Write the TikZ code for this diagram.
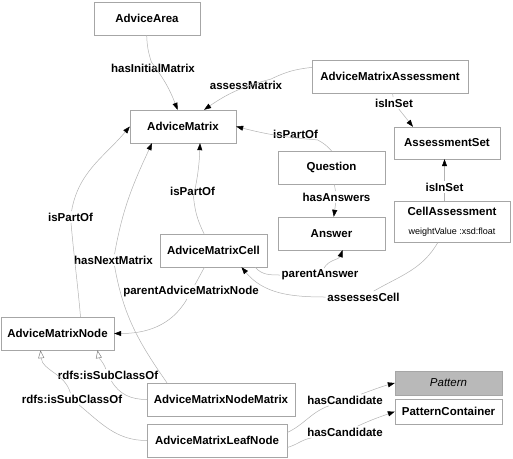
\documentclass[tikz,border=0pt]{standalone}
\usepackage{fontspec}
\setmainfont{Liberation Sans}
\usetikzlibrary{positioning,arrows.meta}

\tikzset{
  cls/.style={draw=gray!70, rectangle, inner sep=0pt, minimum height=33pt, font=\bfseries\fontsize{11.5}{13}\selectfont},
  lbl/.style={inner sep=1.5pt, font=\bfseries\fontsize{11.5}{13}\selectfont},
  rel/.style={draw=gray!60, line width=0.5pt, -{Triangle[black,length=7pt,width=5pt]}},
  sub/.style={draw=gray!60, line width=0.5pt, -{Triangle[open,gray,length=8pt,width=6pt]}},
}

\begin{document}
\begin{tikzpicture}[x=1pt,y=-1pt]
	\useasboundingbox (0,0) rectangle (513,458);

	\node[cls,minimum width=106pt] (area) at (147,18.5) {AdviceArea};
	\node[cls,minimum width=106pt] (matrix) at (183,126.5) {AdviceMatrix};
	\node[cls,minimum width=156pt] (assess) at (390,76.5) {AdviceMatrixAssessment};
	\node[cls,minimum width=106pt,minimum height=32pt] (aset) at (447,143) {AssessmentSet};
	\node[cls,minimum width=107pt] (question) at (331.5,167.5) {Question};
	\node[cls,minimum width=107pt] (answer) at (331.5,233.5) {Answer};
	\node[cls,minimum width=116pt,minimum height=41pt,align=center] (cellass) at (452,221.5)
		{CellAssessment\\[6pt]{\mdseries\fontsize{9}{11}\selectfont weightValue :xsd:float}};
	\node[cls,minimum width=107pt] (cell) at (213.5,250.5) {AdviceMatrixCell};
	\node[cls,minimum width=113pt] (mnode) at (57.5,333.5) {AdviceMatrixNode};
	\node[cls,minimum width=148pt] (nodematrix) at (221,399.5) {AdviceMatrixNodeMatrix};
	\node[cls,minimum width=140pt] (leaf) at (217,440.5) {AdviceMatrixLeafNode};
	\node[cls,minimum width=107pt,minimum height=24pt,fill=gray!55,font=\itshape\fontsize{11.5}{13}\selectfont] (pattern) at (448.5,383) {Pattern};
	\node[cls,minimum width=107pt,minimum height=25pt] (container) at (448.5,411.5) {PatternContainer};

	\node[lbl] (lInit) at (153,68) {hasInitialMatrix};
	\node[lbl] (lAssM) at (246,85) {assessMatrix};
	\node[lbl] (lSet1) at (394,103) {isInSet};
	\node[lbl] (lPart1) at (295.5,134) {isPartOf};
	\node[lbl] (lAns) at (336.5,197) {hasAnswers};
	\node[lbl] (lSet2) at (444.5,187) {isInSet};
	\node[lbl] (lPart2) at (192.5,191) {isPartOf};
	\node[lbl] (lPart3) at (70.5,217) {isPartOf};
	\node[lbl] (lNext) at (113.5,260) {hasNextMatrix};
	\node[lbl] (lParNode) at (191,292) {parentAdviceMatrixNode};
	\node[lbl] (lParAns) at (320,275) {parentAnswer};
	\node[lbl] (lAssC) at (363.5,297) {assessesCell};
	\node[lbl] (lSub1) at (108,375) {rdfs:isSubClassOf};
	\node[lbl] (lSub2) at (72,399) {rdfs:isSubClassOf};
	\node[lbl] (lCand1) at (345,400) {hasCandidate};
	\node[lbl] (lCand2) at (345,432) {hasCandidate};

	\draw[rel] (area) to[bend right=8] (lInit) to[bend left=8] (matrix);
	\draw[rel] (assess) to[bend right=10] (lAssM) to[bend right=10] (matrix);
	\draw[rel] (assess) -- (lSet1) -- ([xshift=-34pt]aset.north);
	\draw[rel] (question.north) to[bend right=10] (lPart1) to[bend left=5] (matrix.east);
	\draw[rel] (question) -- (lAns) -- (answer);
	\draw[rel] (cellass.north -| lSet2) -- (lSet2) -- (aset.south -| lSet2);
	\draw[rel] (cell) to[bend left=10] (lPart2) to[bend right=5] ([xshift=17pt]matrix.south);
	\draw[rel] (cell) -- (lParNode) to[out=-120,in=0] (mnode.east);
	\draw[rel] ([xshift=-12pt]cell.south east) to[out=-50,in=180] (lParAns) to[out=60,in=-110] ([xshift=11pt]answer.south);
	\draw[rel] ([xshift=-14pt]cellass.south) to[out=-120,in=30] (lAssC) to[out=180,in=-50] ([xshift=28pt]cell.south);
	\draw[rel] ([xshift=23pt]mnode.north) to[out=95,in=-85] (lPart3) to[out=80,in=-130] (matrix.west);
	\draw[rel] ([xshift=-54pt]nodematrix.north) to[out=125,in=-80] (lNext) to[out=80,in=-115] ([xshift=-31pt]matrix.south);

	\draw[sub] (nodematrix.west) to[out=180,in=-60] (lSub1) to[out=110,in=-80] ([xshift=40pt]mnode.south);
	\draw[sub] (leaf.west) to[out=180,in=-40] (lSub2) to[out=105,in=-85] ([xshift=-17pt]mnode.south);

	\draw[rel] ([yshift=8pt]leaf.east) to[out=25,in=-160] (lCand1) to[out=20,in=-165] (pattern.west);
	\draw[rel] ([yshift=-7pt]leaf.east) to[out=15,in=-170] (lCand2) to[out=25,in=-160] (container.west);
\end{tikzpicture}
\end{document}
